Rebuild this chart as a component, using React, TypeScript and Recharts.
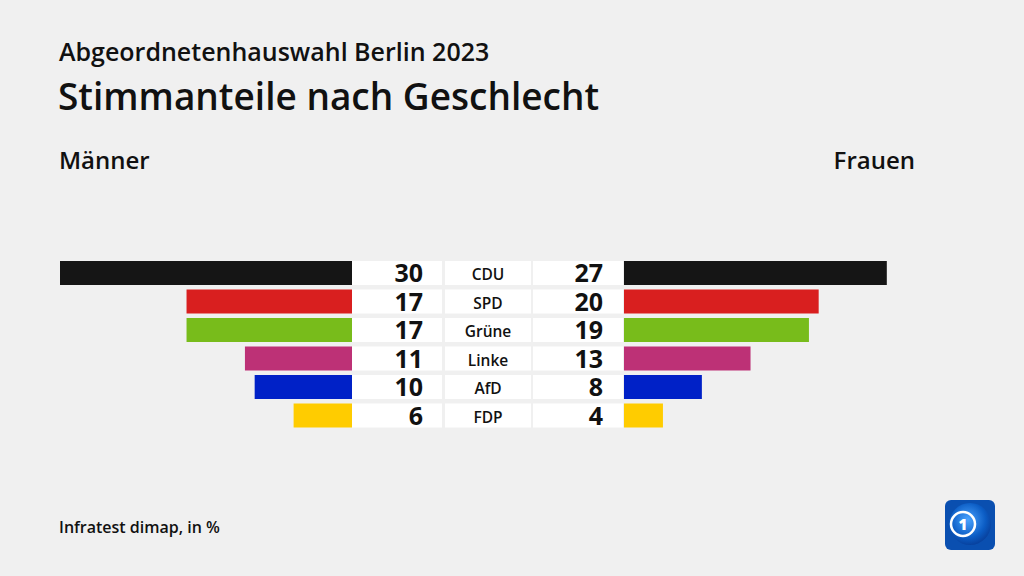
import React from "react"
import { BarChart, Bar, XAxis, YAxis } from "recharts"

const PARTIES = ["CDU", "SPD", "Grüne", "Linke", "AfD", "FDP"]
const MEN = [30, 17, 17, 11, 10, 6]
const WOMEN = [27, 20, 19, 13, 8, 4]
const COLORS = ["#151515", "#d91f1f", "#78bc1b", "#bd3176", "#0021c7", "#ffcc00"]

const data = PARTIES.map((party, i) => ({
  party,
  men: MEN[i],
  women: WOMEN[i],
  color: COLORS[i],
}))

const FONT = "'Open Sans', sans-serif"

// left bar + men value box + party label box
function LeftShape(props: any) {
  const { x, y, width, height, payload } = props
  const left = Math.min(x, x + width)
  const right = Math.max(x, x + width)
  return (
    <g>
      <rect x={left} y={y} width={right - left} height={height} fill={payload.color} />
      <rect x={right} y={y} width={90} height={height} fill="#ffffff" />
      <text x={right + 71} y={y + height / 2 + 9} textAnchor="end" fontFamily={FONT} fontWeight={700} fontSize={25} fill="#111">
        {payload.men}
      </text>
      <rect x={right + 93} y={y} width={86} height={height} fill="#ffffff" />
      <text x={right + 136} y={y + height / 2 + 7} textAnchor="middle" fontFamily={FONT} fontWeight={600} fontSize={15.5} fill="#111">
        {payload.party}
      </text>
    </g>
  )
}

// women value box + right bar
function RightShape(props: any) {
  const { x, y, width, height, payload } = props
  return (
    <g>
      <rect x={x - 91} y={y} width={90} height={height} fill="#ffffff" />
      <text x={x - 21} y={y + height / 2 + 9} textAnchor="end" fontFamily={FONT} fontWeight={700} fontSize={25} fill="#111">
        {payload.women}
      </text>
      <rect x={x} y={y} width={width} height={height} fill={payload.color} />
    </g>
  )
}

export default function App() {
  return (
    <div style={{ position: "relative", width: 1024, height: 576, background: "#f0f0f0", overflow: "hidden", fontFamily: FONT }}>
      <style>{"body{margin:0}"}</style>
      <svg width={1024} height={576} style={{ position: "absolute", left: 0, top: 0 }}>
        <text x={59} y={61} fontFamily={FONT} fontWeight={600} fontSize={25} fill="#111">
          Abgeordnetenhauswahl Berlin 2023
        </text>
        <text x={58} y={110} fontFamily={FONT} fontWeight={600} fontSize={37} fill="#111">
          Stimmanteile nach Geschlecht
        </text>
        <text x={59} y={169} fontFamily={FONT} fontWeight={600} fontSize={24} fill="#111">
          Männer
        </text>
        <text x={915} y={169} textAnchor="end" fontFamily={FONT} fontWeight={600} fontSize={24} fill="#111">
          Frauen
        </text>
        <text x={59} y={533} fontFamily={FONT} fontWeight={600} fontSize={16} fill="#111">
          Infratest dimap, in %
        </text>
        <defs>
          <radialGradient id="globe" cx="0.45" cy="0.4" r="0.7">
            <stop offset="0" stopColor="#4aa3ff" />
            <stop offset="0.6" stopColor="#0b5cc4" />
            <stop offset="1" stopColor="#06338a" />
          </radialGradient>
        </defs>
        <rect x={945} y={500} width={50} height={50} rx={6} fill="#0a4fb0" />
        <circle cx={970} cy={524} r={21} fill="url(#globe)" />
        <circle cx={963} cy={524} r={12} fill="none" stroke="#ffffff" strokeWidth={2.5} />
        <text x={963} y={530} textAnchor="middle" fontFamily={FONT} fontWeight={800} fontSize={15} fill="#ffffff">
          1
        </text>
      </svg>

      <div style={{ position: "absolute", left: 60, top: 259 }}>
        <BarChart
          width={564}
          height={171}
          data={data}
          layout="vertical"
          margin={{ top: 0, right: 272, bottom: 0, left: 0 }}
          style={{ overflow: "visible" }}
        >
          <XAxis type="number" domain={[0, 30]} reversed hide />
          <YAxis type="category" dataKey="party" hide />
          <Bar dataKey="men" barSize={24} shape={<LeftShape />} isAnimationActive={false} />
        </BarChart>
      </div>

      <div style={{ position: "absolute", left: 533, top: 259 }}>
        <BarChart
          width={383}
          height={171}
          data={data}
          layout="vertical"
          margin={{ top: 0, right: 0, bottom: 0, left: 91 }}
          style={{ overflow: "visible" }}
        >
          <XAxis type="number" domain={[0, 30]} hide />
          <YAxis type="category" dataKey="party" hide />
          <Bar dataKey="women" barSize={24} shape={<RightShape />} isAnimationActive={false} />
        </BarChart>
      </div>
    </div>
  )
}
